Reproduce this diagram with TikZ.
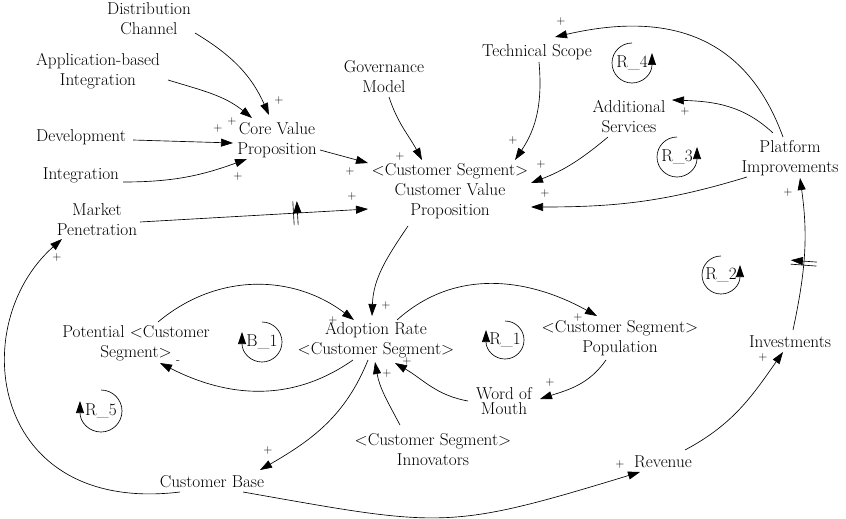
\documentclass[tikz,border=0pt]{standalone}
\usetikzlibrary{arrows.meta}
\begin{document}
\begin{tikzpicture}[x=1pt,y=1pt,
  font=\fontsize{17.2}{20}\selectfont,
  var/.style={align=center, inner sep=0pt},
  pol/.style={font=\fontsize{12}{12}\selectfont, inner sep=0pt},
  lk/.style={line width=0.65pt, -{Triangle[length=12pt,width=8pt]}},
  loopar/.style={line width=0.65pt, -{Triangle[length=12pt,width=8pt]}, shorten >=-10pt},
  delaymark/.style={sloped, inner sep=0pt}
]
\useasboundingbox (0,0) rectangle (846,-519);

% variables
\node[var] (dc) at (149,-19) {Distribution\\Channel};
\node[var] (ab) at (98,-71) {Application-based\\Integration};
\node[var] (dev) at (81,-137) {Development};
\node[var] (integ) at (81,-175) {Integration};
\node[var] (cvp) at (277,-140) {Core Value\\Proposition};
\node[var] (gov) at (384,-77) {Governance\\Model};
\node[var] (tech) at (537,-52) {Technical Scope};
\node[var] (add) at (629,-117) {Additional\\Services};
\node[var] (plat) at (790,-158) {Platform\\Improvements};
\node[var] (custv) at (450,-191) {<Customer Segment>\\Customer Value\\Proposition};
\node[var] (mkt) at (97,-220) {Market\\Penetration};
\node[var] (pot) at (136,-343) {Potential <Customer\\Segment>};
\node[var] (adopt) at (376,-340) {Adoption Rate\\<Customer Segment>};
\node[var] (pop) at (620,-338) {<Customer Segment>\\Population};
\node[var, font=\fontsize{17.2}{15}\selectfont] (wom) at (504,-401) {Word of\\Mouth};
\node[var] (innov) at (433,-450) {<Customer Segment>\\Innovators};
\node[var] (inv) at (790,-342) {Investments};
\node[var] (rev) at (663,-462) {Revenue};
\node[var] (cb) at (212,-482) {Customer Base};

% loop labels
\node[var] (r4) at (632,-63) {R\_4};
\node[var] (r3) at (677,-157) {R\_3};
\node[var] (r2) at (721,-275) {R\_2};
\node[var] (r1) at (505,-340) {R\_1};
\node[var] (b1) at (262,-342) {B\_1};
\node[var] (r5) at (101,-411) {R\_5};

\draw[loopar] ([shift={(90:20)}]r4.center) arc[start angle=90,end angle=360,radius=20];
\draw[loopar] ([shift={(90:20)}]r3.center) arc[start angle=90,end angle=360,radius=20];
\draw[loopar] ([shift={(90:19)}]r2.center) arc[start angle=90,end angle=360,radius=19];
\draw[loopar] ([shift={(90:19)}]r1.center) arc[start angle=90,end angle=-180,radius=19];
\draw[loopar] ([shift={(90:20)}]b1.center) arc[start angle=90,end angle=-180,radius=20];
\draw[loopar] ([shift={(90:21)}]r5.center) arc[start angle=90,end angle=-180,radius=21];

% connectors
\draw[lk] ([shift={(46,-14)}]dc.center) to[out=-31,in=114] ([shift={(-8,25)}]cvp.center);
\draw[lk] ([shift={(70,-9)}]ab.center) to[out=-17,in=141] ([shift={(-25,22)}]cvp.center);
\draw[lk] ([shift={(52,-3)}]dev.center) -- ([shift={(-44,-3)}]cvp.center);
\draw[lk] ([shift={(42,-7)}]integ.center) to[out=0,in=200] ([shift={(-30,-19)}]cvp.center);
\draw[lk] ([shift={(43,-10)}]cvp.center) -- ([shift={(-82,28)}]custv.center);
\draw[lk] ([shift={(5,-20)}]gov.center) to[out=-72,in=118] ([shift={(-28,31)}]custv.center);
\draw[lk] ([shift={(2,-10)}]tech.center) to[out=-85,in=56] ([shift={(65,31)}]custv.center);
\draw[lk] ([shift={(-21,-20)}]add.center) to[out=-140,in=21] ([shift={(81,8)}]custv.center);
\draw[lk] ([shift={(-43,-19)}]plat.center) to[out=-163,in=0] ([shift={(81,-16)}]custv.center);
\draw[lk] ([shift={(-17,25)}]plat.center) to[out=137,in=-2] ([shift={(43,17)}]add.center);
\draw[lk] ([shift={(-7,21)}]plat.center) to[out=110,in=13,looseness=1.15] ([shift={(18,15)}]tech.center);
\draw[lk] ([shift={(43,-2)}]mkt.center) -- node[delaymark,pos=0.69]{\tikz\draw[line width=0.65pt] (0,-12pt)--(0,12pt) (4pt,-12pt)--(4pt,12pt);} ([shift={(-82,-18)}]custv.center);
\draw[lk] ([shift={(-42,-35)}]custv.center) to[out=-124,in=88] ([shift={(-4,24)}]adopt.center);
\draw[lk] ([shift={(-23,-20)}]adopt.center) to[out=-145,in=-27] ([shift={(24,-20)}]pot.center);
\draw[lk] ([shift={(22,21)}]pot.center) to[out=40,in=143] ([shift={(-22,20)}]adopt.center);
\draw[lk] ([shift={(21,20)}]adopt.center) to[out=42,in=151] ([shift={(-23,22)}]pop.center);
\draw[lk] ([shift={(-14,-22)}]pop.center) to[out=-125,in=18] ([shift={(36,2)}]wom.center);
\draw[lk] ([shift={(-36,0)}]wom.center) to[out=170,in=-30] ([shift={(19,-23)}]adopt.center);
\draw[lk] ([shift={(-33,25)}]innov.center) to[out=118,in=-80] ([shift={(-1,-22)}]adopt.center);
\draw[lk] ([shift={(-8,-20)}]adopt.center) to[out=-112,in=30] ([shift={(48,12)}]cb.center);
\draw[lk] ([shift={(-32,-10)}]cb.center) .. controls +(-190,-23) and +(-97,-86) .. ([shift={(-35,-19)}]mkt.center);
\draw[lk] ([shift={(31,-10)}]cb.center) to[out=-10,in=197,looseness=1.3] ([shift={(-23,-10)}]rev.center);
\draw[lk] ([shift={(22,12)}]rev.center) to[out=28,in=-125] ([shift={(-7,-10)}]inv.center);
\draw[lk] ([shift={(3,12)}]inv.center) to[out=78,in=-82] node[delaymark,pos=0.45]{\tikz\draw[line width=0.65pt] (0,-13pt)--(0,13pt) (4pt,-13pt)--(4pt,13pt);} ([shift={(10,-20)}]plat.center);

% polarities
\node[pol] (p1) at (279,-101) {+};
\node[pol] (p2) at (232,-122) {+};
\node[pol] (p3) at (218,-129) {+};
\node[pol] (p4) at (238,-177) {+};
\node[pol] (p5) at (350,-172) {+};
\node[pol] (p6) at (400,-157) {+};
\node[pol] (p7) at (513,-141) {+};
\node[pol] (p8) at (541,-165) {+};
\node[pol] (p9) at (545,-194) {+};
\node[pol] (p10) at (685,-112) {+};
\node[pol] (p11) at (561,-22) {+};
\node[pol] (p12) at (352,-197) {+};
\node[pol] (p13) at (386,-306) {+};
\node[pol] (p14) at (333,-321) {+};
\node[pol] (p15) at (178,-362) {-};
\node[pol] (p16) at (578,-318) {+};
\node[pol] (p17) at (550,-383) {+};
\node[pol] (p18) at (407,-362) {+};
\node[pol] (p19) at (387,-374) {+};
\node[pol] (p20) at (268,-451) {+};
\node[pol] (p21) at (57,-258) {+};
\node[pol] (p22) at (620,-465) {+};
\node[pol] (p23) at (763,-358) {+};
\node[pol] (p24) at (788,-193) {+};
\end{tikzpicture}
\end{document}
